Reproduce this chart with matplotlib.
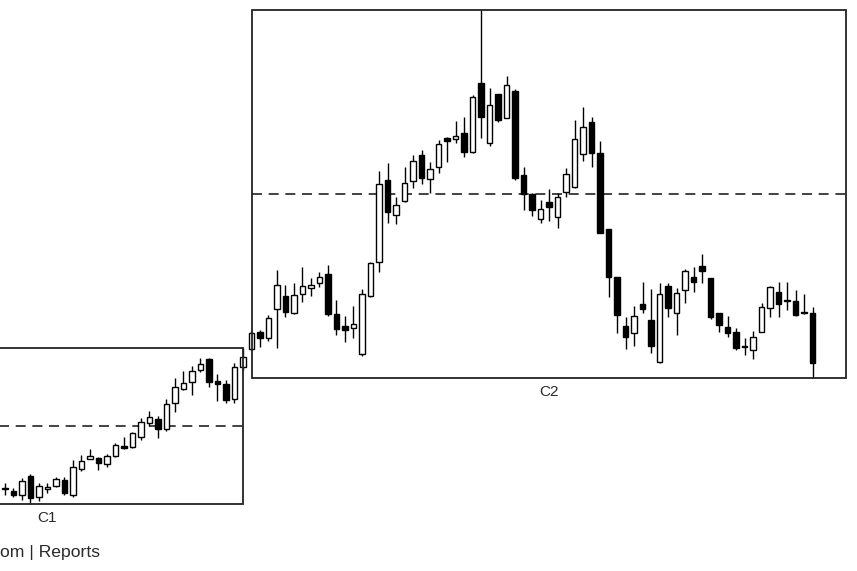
import matplotlib
matplotlib.use("Agg")
import matplotlib.pyplot as plt
from matplotlib.patches import Rectangle
import numpy as np

# candle data (open, high, low, close), one per session
opens = [111, 109, 105, 124, 103, 111, 114, 120, 105, 131, 141, 142, 136, 144, 154, 153,
         163, 177, 181, 171, 197, 211, 218, 230, 241, 219, 216, 201, 233, 251, 268, 262,
         291, 304, 287, 306, 312, 317, 326, 286, 274, 272, 246, 304, 338, 420, 385, 399,
         419, 445, 421, 433, 462, 461, 467, 448, 517, 457, 506, 482, 509, 425, 406, 381,
         398, 383, 408, 413, 446, 478, 447, 371, 323, 274, 267, 296, 280, 238, 314, 287,
         310, 323, 334, 322, 287, 273, 268, 254, 250, 268, 292, 308, 300, 299, 288, 287]
highs = [117, 112, 122, 126, 117, 117, 123, 123, 140, 145, 151, 143, 146, 157, 163, 168,
         182, 189, 184, 201, 222, 229, 234, 242, 242, 226, 220, 237, 252, 269, 270, 285,
         330, 315, 317, 333, 322, 328, 335, 300, 284, 294, 311, 338, 429, 437, 403, 433,
         445, 450, 438, 460, 463, 479, 483, 505, 590, 512, 506, 524, 511, 433, 407, 400,
         411, 407, 432, 480, 493, 483, 459, 371, 323, 283, 294, 318, 311, 317, 317, 312,
         331, 333, 346, 322, 287, 284, 272, 262, 269, 297, 314, 318, 318, 310, 306, 293]
lows = [105, 103, 100, 96, 99, 107, 113, 105, 103, 129, 141, 130, 133, 143, 151, 152,
        160, 174, 162, 169, 188, 210, 205, 228, 213, 199, 197, 197, 230, 250, 253, 259,
        252, 283, 286, 298, 304, 313, 284, 265, 258, 262, 244, 303, 328, 377, 376, 398,
        412, 416, 407, 427, 438, 457, 443, 447, 462, 454, 478, 482, 420, 390, 384, 377,
        379, 372, 403, 412, 439, 433, 367, 303, 267, 251, 254, 287, 247, 237, 283, 265,
        297, 308, 317, 281, 268, 263, 250, 245, 241, 268, 283, 283, 290, 284, 286, 222]
closes = [112, 105, 119, 102, 114, 113, 121, 107, 133, 139, 144, 137, 144, 155, 152, 167,
          178, 183, 171, 196, 213, 217, 229, 236, 218, 216, 200, 233, 243, 267, 262, 282,
          315, 288, 305, 314, 315, 323, 286, 271, 270, 276, 306, 337, 416, 388, 395, 417,
          439, 422, 431, 456, 459, 464, 448, 503, 483, 495, 480, 515, 422, 406, 390, 391,
          393, 403, 426, 461, 473, 447, 367, 323, 285, 263, 284, 291, 254, 306, 292, 307,
          329, 318, 329, 283, 275, 267, 252, 253, 263, 293, 313, 296, 299, 285, 287, 237]

# consolidation boxes: label, first candle, last candle, box left/right (in candle units)
boxes = [("C1", 0, 28, -18.1, 28.0),
         ("C2", 29, 95, 29.06, 98.94)]

opens = np.array(opens)
highs = np.array(highs)
lows = np.array(lows)
closes = np.array(closes)
x = np.arange(len(opens))

fig = plt.figure(figsize=(8.57, 5.71), dpi=100)
ax = fig.add_axes([0, 0, 1, 1])
ax.set_xlim(-0.588, 100.235)
ax.set_ylim(29, 600)
ax.axis("off")

# candles
up = closes >= opens
ax.vlines(x, lows, highs, color="black", lw=1.0, zorder=2)
bottoms = np.minimum(opens, closes)
heights = np.maximum(np.abs(closes - opens), 0.8)
ax.bar(x, heights, bottom=bottoms, width=0.66,
       color=np.where(up, "white", "black"), edgecolor="black", lw=1.0, zorder=3)

# boxes with midlines and labels
for label, i0, i1, left, right in boxes:
    top = highs[i0:i1 + 1].max()
    bot = lows[i0:i1 + 1].min()
    mid = (top + bot) / 2
    ax.add_patch(Rectangle((left, bot), right - left, top - bot, fill=False,
                           ec="#222222", lw=1.3, zorder=4))
    ax.hlines(mid, left, right, colors="#222222", lw=1.2, linestyles=(0, (6, 4)), zorder=1)
    ax.text((left + right) / 2, bot - 14, label, ha="center", va="center",
            fontsize=11, color="#2a2a2a", family="Liberation Sans")

fig.text(0.5, 571 - 553, "om | Reports", transform=None, fontsize=12.6,
         color="#2a2a2a", family="Liberation Sans", ha="left", va="center")

fig.savefig("out.png", dpi=100)
